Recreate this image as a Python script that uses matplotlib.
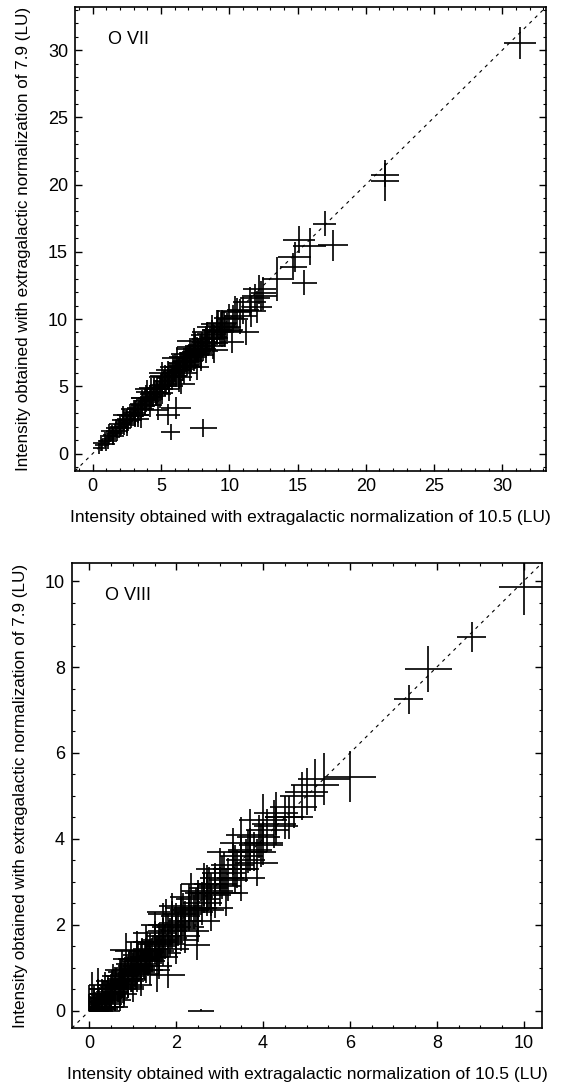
# =====================================================================
# IMPORTS
# =====================================================================
import numpy as np
import matplotlib
matplotlib.use('Agg')
import matplotlib.pyplot as plt
from matplotlib.ticker import MultipleLocator

plt.rcParams['font.family'] = ['Liberation Sans', 'DejaVu Sans']

# =====================================================================
# DATEN
# =====================================================================
# O VII: x = Intensitaet (10.5), y = Intensitaet (7.9), Fehler in LU
o7_x = [0.45, 0.7, 0.9, 1.0, 1.2, 1.3, 1.5, 1.6, 1.8, 1.9, 2.0, 2.2, 2.3, 2.4, 2.6, 2.7,
        2.8, 3.0, 3.1, 3.2, 3.3, 3.5, 3.6, 3.7, 3.8, 4.0, 4.1, 4.2, 4.3, 4.5, 4.6, 4.7,
        4.8, 5.0, 5.1, 5.2, 5.3, 5.5, 5.6, 5.7, 5.8, 6.0, 6.1, 6.2, 6.4, 6.5, 6.6, 6.8,
        6.9, 7.0, 7.2, 7.3, 7.5, 7.6, 7.8, 8.0, 8.1, 8.3, 8.5, 8.7, 8.9, 9.1, 9.3, 9.5,
        9.8, 10.0, 10.3, 10.6, 11.0, 11.2, 10.2, 11.5, 11.9, 12.2, 12.3, 12.0, 13.5, 14.7,
        14.8, 15.1, 15.5, 15.9, 17.6, 17.0, 21.4, 21.4, 31.3,
        5.7, 8.1, 6.1, 5.5,
        1.4, 2.1, 2.9, 3.4, 3.9, 4.4, 4.9, 5.4, 5.9, 6.3, 6.7, 7.1, 7.7, 8.2, 8.8, 9.4,
        2.5, 3.6, 4.6, 5.6, 6.6, 7.4, 8.4, 9.6,
        0.6, 1.1, 1.7, 2.0, 2.5, 3.0, 3.3, 3.8, 4.2, 4.5, 4.9, 5.3, 5.6, 6.0, 6.3, 6.8,
        7.1, 7.5, 7.9, 8.4, 8.8, 9.2, 9.7, 10.4, 10.8, 11.6, 12.5, 4.8, 3.5, 6.5, 7.6, 8.9,
        1.2, 2.2, 4.0, 5.1, 6.2, 7.4,
        1.5, 2.3, 3.1, 3.9, 4.7, 5.5, 6.3, 7.1, 7.9, 8.7, 9.5, 2.7, 3.5, 4.3, 5.1, 5.9,
        6.7, 7.5, 8.3, 9.1]
o7_y = [0.40, 0.6, 0.95, 0.7, 1.1, 1.4, 1.2, 1.7, 1.5, 2.0, 1.7, 2.3, 1.9, 2.6, 2.3, 2.8,
        2.5, 3.1, 2.8, 3.4, 3.0, 3.6, 3.3, 3.9, 3.5, 4.1, 3.8, 4.4, 4.0, 4.6, 4.3, 4.9,
        4.5, 5.1, 4.8, 5.4, 5.0, 5.6, 5.3, 5.9, 5.5, 6.1, 5.8, 6.4, 6.1, 6.7, 6.3, 6.9,
        6.6, 7.2, 6.9, 7.5, 7.2, 7.8, 7.5, 8.1, 7.8, 8.5, 8.2, 8.9, 8.6, 9.2, 9.0, 9.7,
        9.4, 10.1, 10.0, 10.5, 10.7, 9.0, 8.3, 11.3, 11.6, 12.2, 11.7, 10.9, 13.0, 13.9,
        14.6, 15.9, 12.7, 15.4, 15.5, 17.1, 20.7, 20.3, 30.5,
        1.6, 1.9, 3.4, 2.9,
        1.5, 2.0, 3.0, 3.2, 4.0, 4.2, 5.0, 5.2, 6.0, 6.2, 6.8, 7.0, 7.6, 8.3, 8.7, 9.5,
        2.4, 3.7, 4.5, 5.7, 6.5, 7.3, 8.5, 9.3,
        0.8, 0.9, 1.9, 2.2, 2.1, 3.3, 2.9, 4.1, 3.6, 4.9, 4.4, 5.7, 5.0, 6.4, 5.7, 7.2,
        6.5, 7.9, 7.3, 8.8, 8.2, 9.6, 9.1, 10.6, 10.2, 10.6, 11.9, 3.2, 2.6, 5.2, 6.4, 7.7,
        1.7, 2.9, 4.8, 6.0, 7.1, 8.4,
        1.3, 2.5, 2.9, 4.1, 4.5, 5.8, 6.0, 7.4, 7.6, 9.0, 9.2, 2.9, 3.3, 4.6, 4.8, 6.2,
        6.4, 7.8, 8.0, 9.4]
o7_xerr = [0.5, 0.5, 0.45, 0.6, 0.5, 0.55, 0.5, 0.6, 0.5, 0.6, 0.55, 0.6, 0.5, 0.65, 0.6, 0.6,
           0.7, 0.6, 0.65, 0.7, 0.6, 0.7, 0.65, 0.7, 0.75, 0.7, 0.7, 0.75, 0.7, 0.75, 0.8, 0.7,
           0.75, 0.8, 0.75, 0.8, 0.8, 0.8, 0.85, 0.8, 0.85, 0.85, 0.8, 0.9, 0.85, 0.9, 0.85, 0.9,
           0.9, 0.95, 0.9, 0.95, 0.9, 1.0, 0.95, 1.0, 0.95, 1.0, 1.0, 1.05, 1.0, 1.1, 1.0, 1.1,
           1.05, 1.1, 1.1, 1.1, 1.2, 1.0, 0.9, 1.2, 1.1, 1.2, 1.2, 1.1, 1.1, 1.0,
           1.2, 1.15, 0.9, 1.2, 1.1, 0.85, 1.0, 1.0, 1.2,
           0.7, 1.0, 1.1, 0.9,
           0.6, 0.55, 0.7, 0.6, 0.75, 0.7, 0.8, 0.75, 0.85, 0.8, 0.9, 0.85, 0.95, 0.9, 1.0, 1.0,
           0.8, 0.9, 1.0, 1.0, 1.1, 1.1, 1.2, 1.1,
           0.6, 0.7, 0.7, 0.8, 0.7, 0.9, 0.8, 1.0, 0.9, 1.1, 0.8, 1.2, 1.0, 1.1, 1.0, 1.2,
           0.9, 1.3, 1.0, 1.2, 1.1, 1.3, 1.2, 1.3, 1.2, 1.1, 0.9, 0.8, 0.6, 1.0, 0.9, 1.0,
           0.6, 0.7, 0.9, 1.0, 1.1, 1.2,
           0.8, 0.9, 1.0, 1.1, 1.2, 1.3, 1.3, 1.4, 1.3, 1.4, 1.5, 0.9, 1.0, 1.1, 1.2, 1.3,
           1.3, 1.4, 1.4, 1.5]
o7_yerr = [0.4, 0.45, 0.5, 0.5, 0.5, 0.5, 0.6, 0.5, 0.55, 0.6, 0.5, 0.6, 0.55, 0.6, 0.6, 0.55,
           0.6, 0.6, 0.65, 0.6, 0.7, 0.65, 0.6, 0.7, 0.65, 0.7, 0.65, 0.7, 0.75, 0.7, 0.7, 0.75,
           0.7, 0.75, 0.8, 0.7, 0.75, 0.8, 0.75, 0.8, 0.8, 0.8, 0.85, 0.8, 0.8, 0.85, 0.9, 0.85,
           0.8, 0.9, 0.85, 0.9, 0.9, 0.9, 0.95, 0.9, 0.9, 0.95, 0.9, 1.0, 0.95, 1.0, 1.0, 1.0,
           1.05, 1.0, 1.05, 1.1, 1.1, 0.9, 0.8, 1.1, 1.0, 1.1, 1.1, 1.2, 1.65, 1.0,
           1.1, 1.0, 0.93, 1.4, 1.15, 0.9, 0.9, 1.5, 1.2,
           0.6, 0.7, 0.8, 0.8,
           0.6, 0.6, 0.65, 0.7, 0.7, 0.75, 0.75, 0.8, 0.8, 0.85, 0.85, 0.9, 0.9, 0.95, 1.0, 1.0,
           0.9, 1.0, 1.0, 1.1, 1.1, 1.2, 1.2, 1.3,
           0.6, 0.6, 0.7, 0.6, 0.8, 0.7, 0.9, 0.7, 0.9, 0.8, 1.0, 0.9, 1.1, 1.0, 1.1, 0.9,
           1.1, 1.0, 1.2, 1.0, 1.2, 1.1, 1.2, 1.1, 1.3, 1.2, 1.2, 0.7, 0.7, 0.8, 0.9, 1.0,
           0.5, 0.6, 0.7, 0.8, 0.8, 0.9,
           0.7, 0.8, 0.9, 1.0, 1.0, 1.1, 1.2, 1.2, 1.3, 1.3, 1.3, 0.8, 0.9, 1.0, 1.1, 1.1,
           1.2, 1.2, 1.3, 1.3]

# O VIII
o8_x = [0.05, 0.1, 0.15, 0.2, 0.25, 0.3, 0.35, 0.4, 0.45, 0.5, 0.55, 0.6, 0.65, 0.7, 0.75, 0.8,
        0.85, 0.9, 0.95, 1.0, 1.05, 1.1, 1.15, 1.2, 1.25, 1.3, 1.35, 1.4, 1.45, 1.5, 1.55, 1.6,
        1.65, 1.7, 1.75, 1.8, 1.85, 1.9, 2.0, 2.05, 2.1, 2.2, 2.3, 2.4, 2.5, 2.6, 2.7, 2.8,
        2.9, 3.0, 3.1, 3.2, 3.3, 3.4, 3.5, 3.5, 3.6, 3.7, 3.8, 3.9, 4.0, 4.1, 4.3, 4.3,
        4.5, 4.7, 5.0, 5.4, 6.0, 7.35, 7.8, 8.8, 10.0, 2.57,
        0.85, 1.77, 2.64, 2.48, 1.8, 1.56,
        0.02, 0.08, 0.12, 0.18, 0.22, 0.28, 0.32, 0.38, 0.42, 0.48, 0.52, 0.58, 0.62, 0.68,
        0.72, 0.78, 0.82, 0.88, 0.92, 0.98, 1.02, 1.08, 1.12, 1.18, 1.22, 1.28, 1.32, 1.38,
        0.05, 0.15, 0.25, 0.35, 0.45, 0.1, 0.3, 0.5, 0.2, 0.4, 0.6, 0.7, 0.9, 1.1,
        2.15, 2.45, 2.75, 3.05, 3.35, 3.65, 3.95, 4.25, 4.6, 4.9, 5.2,
        0.0, 0.0, 0.05, 0.1, 0.2, 0.3, 0.35, 0.5, 0.55, 0.6, 0.7, 0.75, 0.8, 0.95, 1.0, 1.1,
        1.2, 1.3, 1.4, 1.5, 1.6, 1.7, 1.8, 1.9, 2.0, 2.1, 2.2, 2.35, 2.5, 2.65, 2.8, 3.0,
        3.15, 3.3, 3.5, 3.7, 3.85, 4.0,
        0.1, 0.3, 0.5, 0.7, 0.9, 1.1, 1.3, 1.5, 1.7, 1.9, 2.1, 2.3, 2.5, 2.7, 2.9, 0.4,
        0.8, 1.2, 1.6, 2.0]
o8_y = [0.05, 0.15, 0.05, 0.25, 0.1, 0.35, 0.2, 0.45, 0.3, 0.55, 0.4, 0.65, 0.5, 0.75, 0.6, 0.85,
        0.7, 0.95, 0.8, 1.05, 0.9, 1.15, 1.0, 1.25, 1.1, 1.35, 1.2, 1.45, 1.3, 1.55, 1.4, 1.65,
        1.5, 1.75, 1.6, 1.85, 1.7, 1.95, 2.05, 1.9, 2.2, 2.1, 2.35, 2.3, 2.6, 2.5, 2.75, 2.7,
        2.95, 2.9, 3.2, 3.05, 3.4, 3.3, 3.6, 3.9, 3.5, 3.75, 3.7, 4.05, 3.9, 4.2, 4.6, 4.3,
        4.5, 4.75, 5.1, 5.4, 5.45, 7.25, 7.95, 8.7, 9.87, 0.0,
        1.42, 2.3, 2.74, 1.53, 0.84, 0.95,
        0.1, 0.02, 0.2, 0.08, 0.3, 0.15, 0.4, 0.25, 0.5, 0.35, 0.6, 0.45, 0.7, 0.55,
        0.8, 0.65, 0.9, 0.75, 1.0, 0.85, 1.1, 0.95, 1.2, 1.05, 1.3, 1.15, 1.4, 1.25,
        0.0, 0.0, 0.0, 0.05, 0.1, 0.3, 0.05, 0.2, 0.4, 0.15, 0.3, 0.5, 0.7, 0.9,
        2.25, 2.4, 2.85, 3.1, 3.3, 3.7, 3.85, 4.35, 4.5, 5.0, 5.25,
        0.1, 0.3, 0.5, 0.0, 0.6, 0.0, 0.5, 0.1, 0.7, 0.25, 0.4, 0.95, 0.5, 1.2, 0.6, 1.4,
        0.85, 1.6, 1.05, 1.8, 1.25, 2.0, 1.45, 2.25, 1.65, 2.45, 1.85, 2.65, 2.1, 2.95, 2.4, 3.3,
        2.75, 3.7, 3.1, 4.1, 3.45, 4.45,
        0.2, 0.4, 0.35, 0.8, 0.75, 1.2, 1.15, 1.6, 1.55, 2.0, 1.95, 2.4, 2.35, 2.8, 2.75, 0.1,
        0.55, 0.95, 1.35, 1.75]
o8_xerr = [0.2, 0.2, 0.25, 0.2, 0.25, 0.25, 0.2, 0.25, 0.3, 0.25, 0.3, 0.3, 0.25, 0.3, 0.3, 0.3,
           0.3, 0.35, 0.3, 0.35, 0.3, 0.35, 0.35, 0.35, 0.3, 0.4, 0.35, 0.4, 0.35, 0.4, 0.4, 0.4,
           0.35, 0.4, 0.4, 0.45, 0.4, 0.45, 0.4, 0.45, 0.45, 0.4, 0.45, 0.45, 0.5, 0.45, 0.5, 0.45,
           0.5, 0.5, 0.5, 0.45, 0.5, 0.5, 0.5, 0.5, 0.45, 0.5, 0.5, 0.5, 0.45, 0.5, 0.5, 0.5,
           0.45, 0.55, 0.5, 0.6, 0.6, 0.34, 0.54, 0.33, 0.57, 0.31,
           0.38, 0.44, 0.3, 0.3, 0.4, 0.3,
           0.2, 0.25, 0.2, 0.25, 0.3, 0.25, 0.3, 0.3, 0.25, 0.3, 0.35, 0.3, 0.35, 0.3,
           0.35, 0.35, 0.4, 0.35, 0.35, 0.4, 0.4, 0.35, 0.4, 0.4, 0.45, 0.4, 0.4, 0.45,
           0.25, 0.3, 0.3, 0.25, 0.3, 0.3, 0.35, 0.3, 0.3, 0.35, 0.3, 0.4, 0.35, 0.4,
           0.45, 0.5, 0.45, 0.5, 0.5, 0.45, 0.5, 0.5, 0.55, 0.5, 0.55,
           0.2, 0.25, 0.3, 0.35, 0.3, 0.4, 0.35, 0.4, 0.4, 0.35, 0.4, 0.4, 0.45, 0.4, 0.45, 0.5,
           0.4, 0.45, 0.5, 0.5, 0.45, 0.5, 0.5, 0.55, 0.5, 0.5, 0.55, 0.5, 0.5, 0.55, 0.5, 0.55,
           0.5, 0.6, 0.55, 0.55, 0.5, 0.55,
           0.3, 0.35, 0.35, 0.4, 0.4, 0.45, 0.45, 0.5, 0.5, 0.55, 0.55, 0.55, 0.6, 0.6, 0.6, 0.4,
           0.45, 0.5, 0.5, 0.55]
o8_yerr = [0.2, 0.25, 0.2, 0.2, 0.25, 0.2, 0.25, 0.25, 0.25, 0.3, 0.25, 0.3, 0.3, 0.25, 0.3, 0.3,
           0.3, 0.3, 0.35, 0.3, 0.35, 0.35, 0.3, 0.35, 0.35, 0.35, 0.4, 0.35, 0.4, 0.4, 0.35, 0.4,
           0.4, 0.4, 0.4, 0.4, 0.45, 0.4, 0.45, 0.4, 0.45, 0.45, 0.45, 0.4, 0.45, 0.5, 0.45, 0.5,
           0.5, 0.45, 0.5, 0.5, 0.5, 0.45, 0.5, 0.6, 0.5, 0.5, 0.45, 0.5, 0.5, 0.5, 0.5, 0.45,
           0.5, 0.5, 0.55, 0.6, 0.6, 0.34, 0.54, 0.35, 0.65, 0.05,
           0.4, 0.3, 0.47, 0.35, 0.3, 0.5,
           0.25, 0.2, 0.25, 0.3, 0.25, 0.3, 0.3, 0.35, 0.3, 0.3, 0.35, 0.35, 0.3, 0.35,
           0.4, 0.35, 0.35, 0.4, 0.4, 0.4, 0.35, 0.45, 0.4, 0.4, 0.4, 0.45, 0.45, 0.4,
           0.2, 0.25, 0.2, 0.25, 0.3, 0.3, 0.25, 0.3, 0.35, 0.3, 0.35, 0.4, 0.4, 0.45,
           0.5, 0.45, 0.5, 0.5, 0.55, 0.5, 0.5, 0.55, 0.5, 0.55, 0.6,
           0.3, 0.3, 0.4, 0.2, 0.4, 0.25, 0.4, 0.3, 0.4, 0.35, 0.4, 0.45, 0.4, 0.4, 0.4, 0.45,
           0.5, 0.4, 0.45, 0.5, 0.5, 0.5, 0.45, 0.5, 0.55, 0.5, 0.5, 0.55, 0.5, 0.5, 0.55, 0.5,
           0.55, 0.55, 0.55, 0.6, 0.55, 0.6,
           0.3, 0.35, 0.4, 0.4, 0.45, 0.45, 0.5, 0.5, 0.5, 0.55, 0.55, 0.55, 0.6, 0.6, 0.6, 0.3,
           0.4, 0.45, 0.5, 0.5]

XLABEL = 'Intensity obtained with extragalactic normalization of 10.5 (LU)'
YLABEL = 'Intensity obtained with extragalactic normalization of 7.9 (LU)'


# =====================================================================
# PLOT-HELPER
# =====================================================================
def crossPlot(ax, x, y, xerr, yerr, lims, major, minor, name):
    x, y = np.asarray(x), np.asarray(y)
    xerr, yerr = np.asarray(xerr), np.asarray(yerr)
    # untere Fehlerbalken bei 0 abschneiden
    xe = [np.minimum(xerr, x), xerr]
    ye = [np.minimum(yerr, y), yerr]
    ax.errorbar(x, y, xerr=xe, yerr=ye, fmt='none', ecolor='black',
                elinewidth=1.35, capsize=0, alpha=0.9)
    ax.plot(lims, lims, color='black', lw=0.8, linestyle=(0, (3, 4)))
    ax.set_xlim(lims)
    ax.set_ylim(lims)
    ax.xaxis.set_major_locator(MultipleLocator(major))
    ax.yaxis.set_major_locator(MultipleLocator(major))
    ax.xaxis.set_minor_locator(MultipleLocator(minor))
    ax.yaxis.set_minor_locator(MultipleLocator(minor))
    ax.tick_params(which='both', direction='in', top=True, right=True, labelsize=13, pad=5)
    ax.tick_params(which='major', length=5, width=1)
    ax.tick_params(which='minor', length=2.5, width=0.8)
    for sp in ax.spines.values():
        sp.set_linewidth(1.2)
    ax.text(0.07, 0.93, name, transform=ax.transAxes, fontsize=13, va='center')
    ax.set_xlabel(XLABEL, fontsize=12.5, labelpad=11)
    ax.set_ylabel(YLABEL, fontsize=12.3, labelpad=12)


# =====================================================================
# MAIN
# =====================================================================
def main():
    fig = plt.figure(figsize=(5.69, 10.85), dpi=100)
    ax1 = fig.add_axes([0.1318, 0.5659, 0.8278, 0.4276])
    ax2 = fig.add_axes([0.1265, 0.0525, 0.8260, 0.4286])
    crossPlot(ax1, o7_x, o7_y, o7_xerr, o7_yerr, (-1.3, 33.2), 5, 1, 'O VII')
    crossPlot(ax2, o8_x, o8_y, o8_xerr, o8_yerr, (-0.4, 10.42), 2, 0.5, 'O VIII')
    fig.savefig('out.png', dpi=100)


main()
